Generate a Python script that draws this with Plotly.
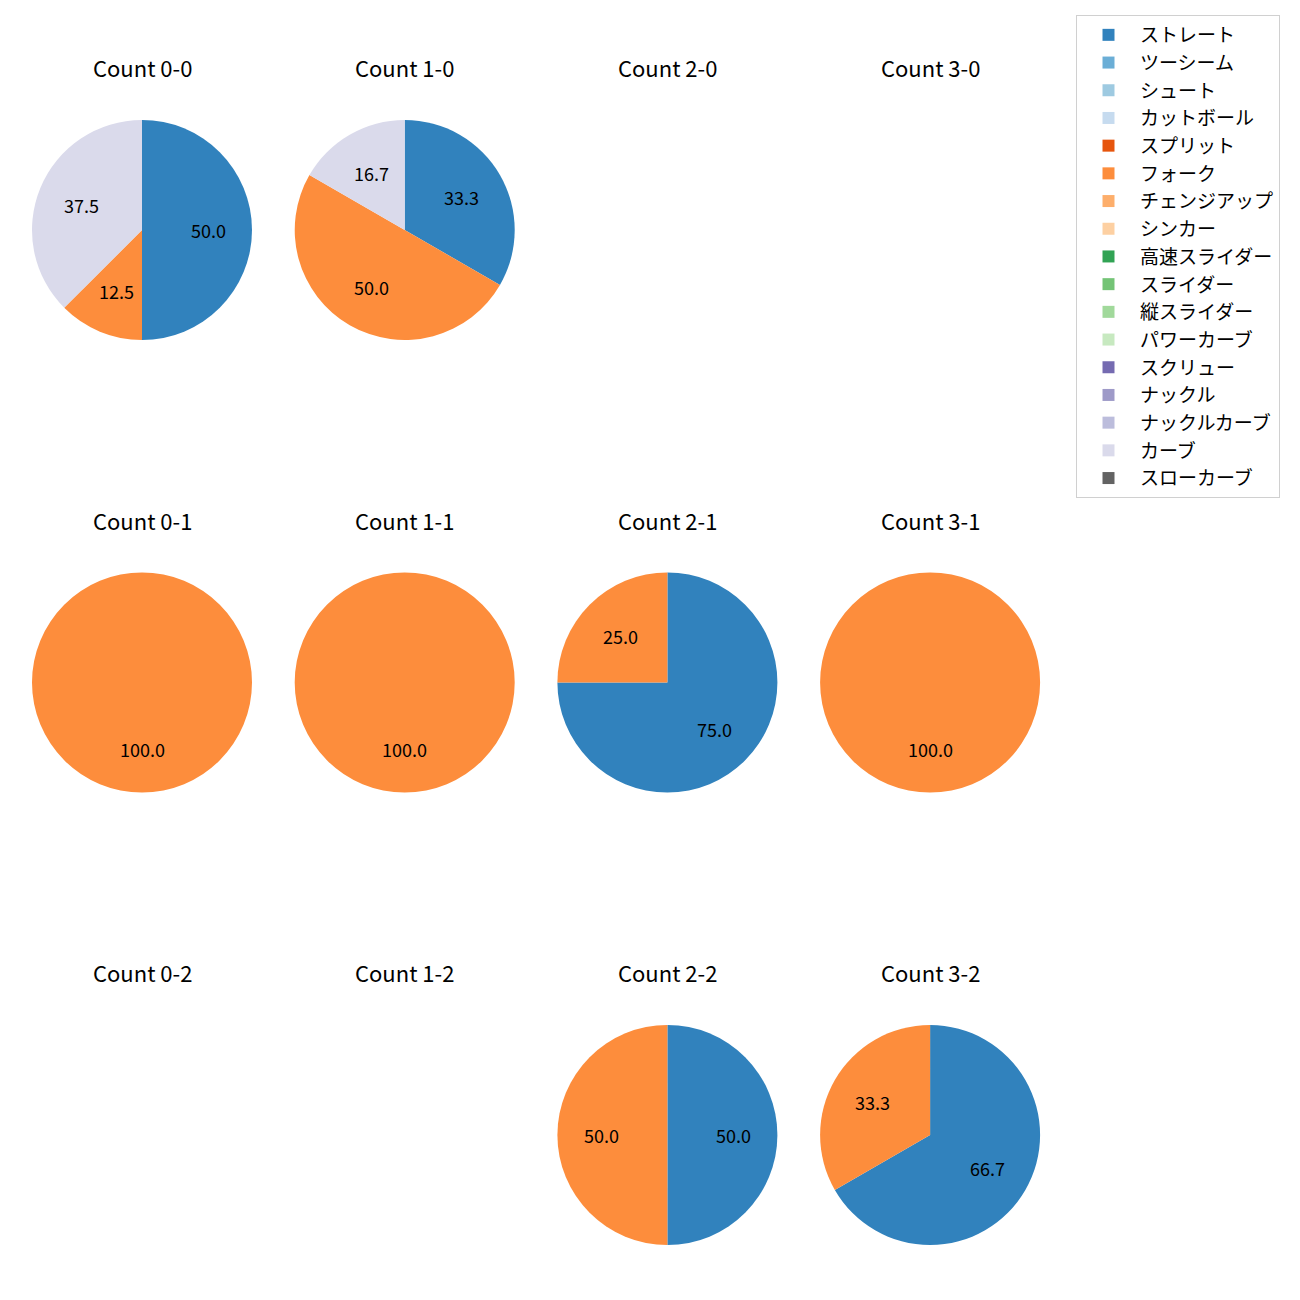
import math
import plotly.graph_objects as go

# ---------------- data ----------------
pitch_types = ["ストレート", "ツーシーム", "シュート", "カットボール", "スプリット", "フォーク",
               "チェンジアップ", "シンカー", "高速スライダー", "スライダー", "縦スライダー",
               "パワーカーブ", "スクリュー", "ナックル", "ナックルカーブ", "カーブ", "スローカーブ"]
pitch_colors = ["#3182bd", "#6baed6", "#9ecae1", "#c6dbef", "#e6550d", "#fd8d3c",
                "#fdae6b", "#fdd0a2", "#31a354", "#74c476", "#a1d99b", "#c7e9c0",
                "#756bb1", "#9e9ac8", "#bcbddc", "#dadaeb", "#636363"]

# pitch counts per ball-strike count (only non-zero types listed)
count_titles = [["Count 0-0", "Count 1-0", "Count 2-0", "Count 3-0"],
                ["Count 0-1", "Count 1-1", "Count 2-1", "Count 3-1"],
                ["Count 0-2", "Count 1-2", "Count 2-2", "Count 3-2"]]
count_0_0 = {"ストレート": 4, "フォーク": 1, "カーブ": 3}
count_1_0 = {"ストレート": 2, "フォーク": 3, "カーブ": 1}
count_2_0 = {}
count_3_0 = {}
count_0_1 = {"フォーク": 1}
count_1_1 = {"フォーク": 1}
count_2_1 = {"ストレート": 3, "フォーク": 1}
count_3_1 = {"フォーク": 1}
count_0_2 = {}
count_1_2 = {}
count_2_2 = {"ストレート": 1, "フォーク": 1}
count_3_2 = {"ストレート": 2, "フォーク": 1}
count_data = [[count_0_0, count_1_0, count_2_0, count_3_0],
              [count_0_1, count_1_1, count_2_1, count_3_1],
              [count_0_2, count_1_2, count_2_2, count_3_2]]

# ---------------- layout constants ----------------
W, H = 1300, 1300
OFF = 8  # page body margin
CX0, DX = 142 - OFF, 262.7
CY0, DY = 230 - OFF, 452.5
R = 110
FONT = "Noto Sans CJK JP"
color_map = dict(zip(pitch_types, pitch_colors))

fig = go.Figure()
annotations = []
first = True
for ri, row in enumerate(count_data):
    for ci, d in enumerate(row):
        cx = CX0 + ci * DX
        cy = CY0 + ri * DY
        # title
        annotations.append(dict(text=count_titles[ri][ci], x=cx / W, y=1 - (cy - 163) / H,
                                xref="paper", yref="paper", showarrow=False,
                                xanchor="center", yanchor="middle",
                                font=dict(family=FONT, size=22, color="black")))
        if first:
            labels = pitch_types
            values = [d.get(p, 0) for p in pitch_types]
        else:
            labels = [p for p in pitch_types if p in d]
            values = [d[p] for p in labels]
        if sum(values) == 0:
            continue
        fig.add_trace(go.Pie(
            labels=labels, values=values,
            marker=dict(colors=[color_map[l] for l in labels], line=dict(width=0)),
            sort=False, direction="clockwise", rotation=0,
            textinfo="none", hoverinfo="label+percent",
            showlegend=first,
            domain=dict(x=[(cx - R) / W, (cx + R) / W], y=[(H - cy - R) / H, (H - cy + R) / H]),
        ))
        first = False
        # percentage labels at 0.6 radius along mid angle
        total = sum(values)
        acc = 0
        for l, v in zip(labels, values):
            if v <= 0:
                continue
            frac = v / total
            mid = (acc + frac / 2) * 2 * math.pi
            acc += frac
            px = cx + 0.6 * R * math.sin(mid)
            py = cy - 0.6 * R * math.cos(mid)
            annotations.append(dict(text=f"{frac*100:.1f}", x=px / W, y=1 - py / H,
                                    xref="paper", yref="paper", showarrow=False,
                                    xanchor="center", yanchor="middle",
                                    font=dict(family=FONT, size=18, color="black")))

fig.update_layout(
    width=W, height=H,
    margin=dict(l=0, r=0, t=0, b=0),
    paper_bgcolor="white", plot_bgcolor="white",
    annotations=annotations,
    font=dict(family=FONT, size=18, color="black"),
    legend=dict(x=(1076 - OFF) / W, y=1 - (15 - OFF) / H, xanchor="left", yanchor="top",
                bordercolor="#d0d0d0", borderwidth=1, bgcolor="white",
                itemwidth=53,
                font=dict(family=FONT, size=19), traceorder="normal"),
)
fig.write_html("out.html")
